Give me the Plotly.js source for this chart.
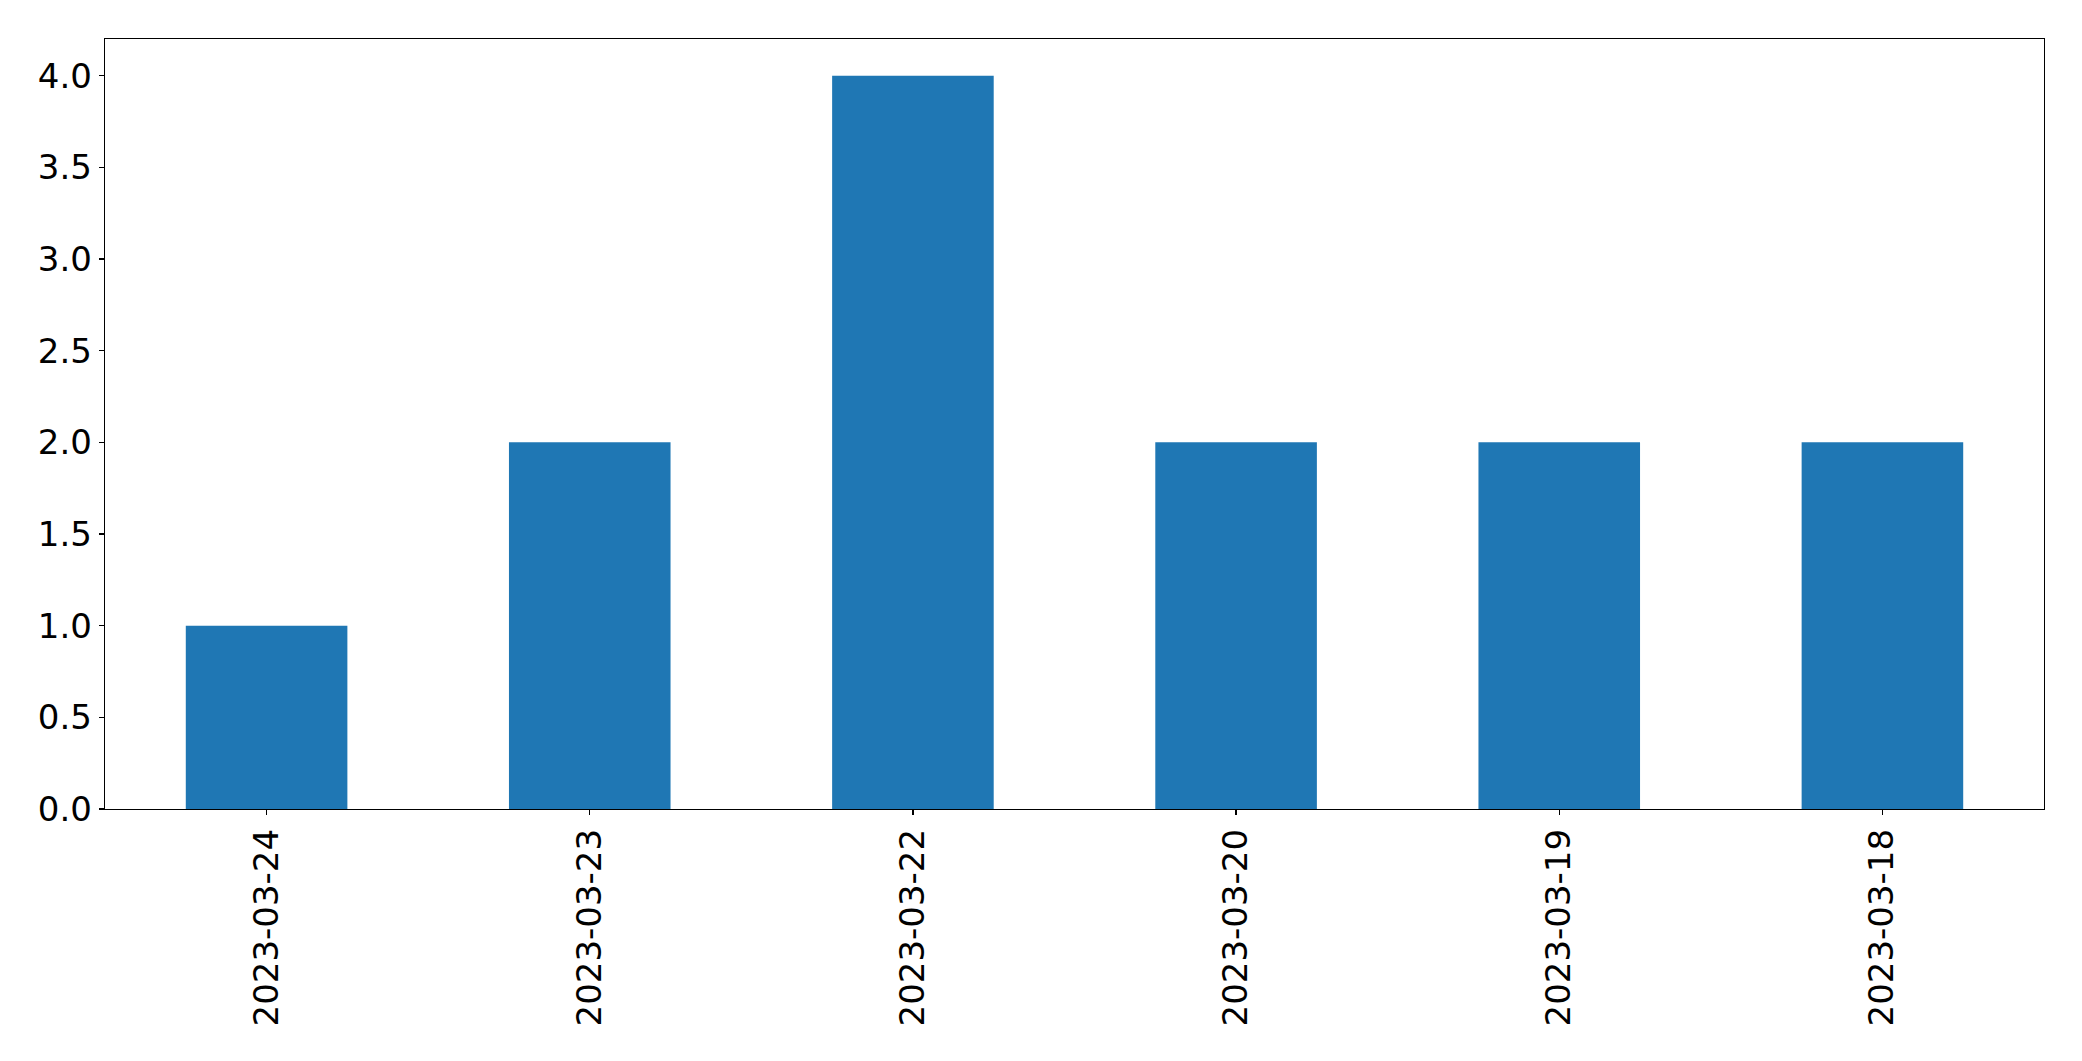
<!DOCTYPE html>
<html>
<head>
<meta charset="utf-8">
<script src="https://cdn.plot.ly/plotly-3.0.1.min.js"></script>
<style>html,body{margin:0;padding:0;background:#fff;}#chart{width:2082px;height:1061px;}</style>
</head>
<body>
<div id="chart"></div>
<script>
const categories = ["2023-03-24", "2023-03-23", "2023-03-22", "2023-03-20", "2023-03-19", "2023-03-18"];
const counts = [1, 2, 4, 2, 2, 2];
const yTickValues = [0, 0.5, 1, 1.5, 2, 2.5, 3, 3.5, 4];
const yTickLabels = ["0.0", "0.5", "1.0", "1.5", "2.0", "2.5", "3.0", "3.5", "4.0"];

const trace = {
  type: "bar",
  x: categories,
  y: counts,
  width: 0.5,
  marker: {color: "#1f77b4", line: {width: 0}},
  hoverinfo: "x+y"
};

const font = {family: "DejaVu Sans, sans-serif", size: 34, color: "#000"};

const layout = {
  width: 2082,
  height: 1061,
  margin: {l: 105, r: 38, t: 39, b: 252, pad: 0},
  paper_bgcolor: "#fff",
  plot_bgcolor: "#fff",
  showlegend: false,
  font: font,
  xaxis: {
    type: "category",
    range: [-0.5, 5.5],
    tickangle: -90,
    ticks: "outside",
    ticklen: 5,
    tickwidth: 1.3,
    tickcolor: "#000",
    showline: true,
    mirror: true,
    linecolor: "#000",
    linewidth: 1.3,
    showgrid: false,
    zeroline: false,
    tickfont: font,
    ticklabelstandoff: 0
  },
  yaxis: {
    range: [0, 4.2],
    tickvals: yTickValues,
    ticktext: yTickLabels,
    ticks: "outside",
    ticklen: 5,
    tickwidth: 1.3,
    tickcolor: "#000",
    showline: true,
    mirror: true,
    linecolor: "#000",
    linewidth: 1.3,
    showgrid: false,
    zeroline: false,
    tickfont: font,
    ticklabelstandoff: 0
  }
};

Plotly.newPlot("chart", [trace], layout, {displayModeBar: false, staticPlot: true});
</script>
</body>
</html>
